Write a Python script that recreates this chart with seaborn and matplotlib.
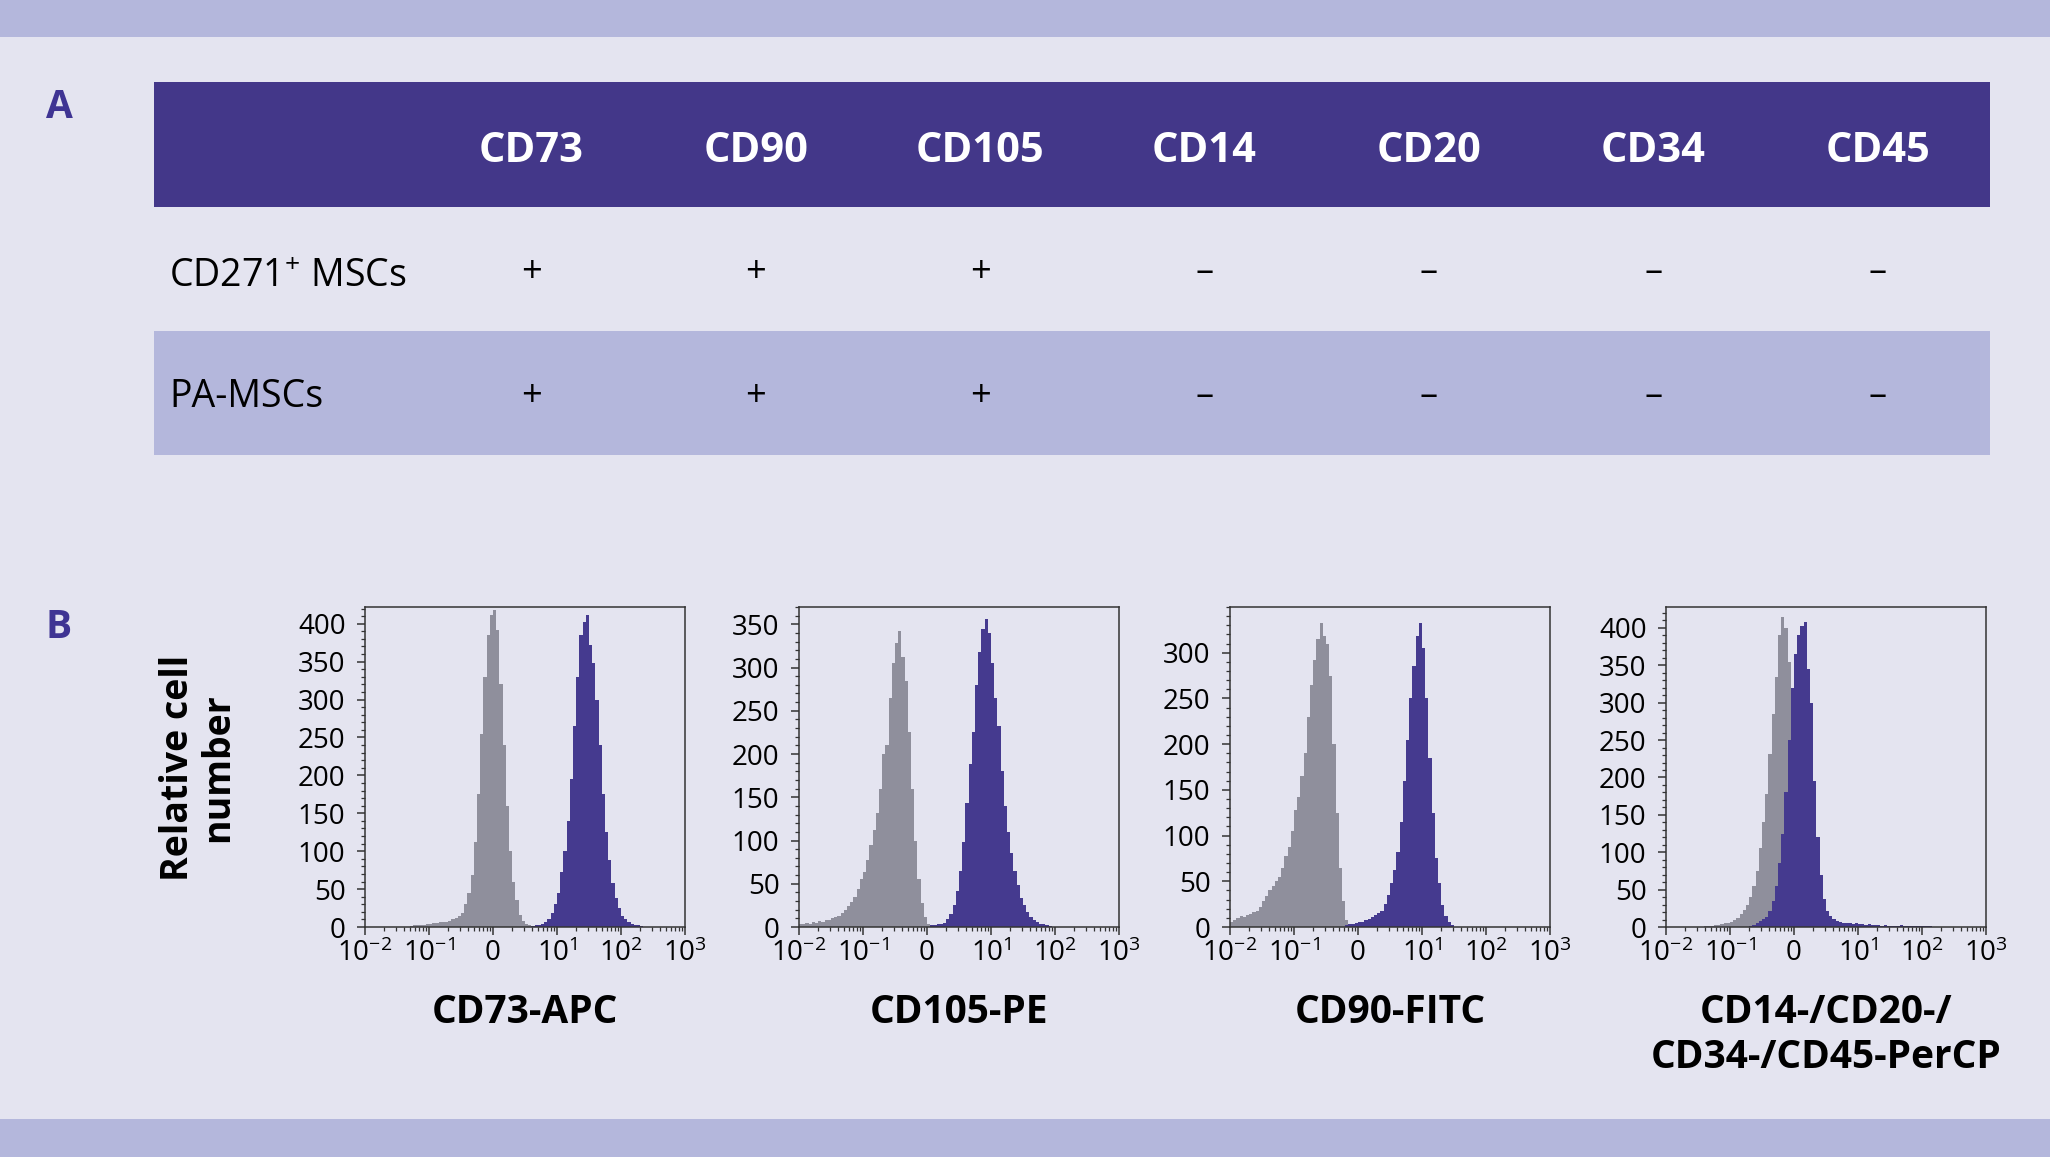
import numpy as np
import pandas as pd
import seaborn as sns
import matplotlib.pyplot as plt
from matplotlib.patches import Rectangle
from matplotlib.ticker import FixedLocator, MultipleLocator

sns.set_theme(style="ticks")
plt.rcParams['font.family'] = ['Open Sans', 'DejaVu Sans']
plt.rcParams['mathtext.fontset'] = 'custom'
plt.rcParams['mathtext.rm'] = 'Open Sans'
plt.rcParams['mathtext.it'] = 'Open Sans:italic'
plt.rcParams['mathtext.bf'] = 'Open Sans:bold'
plt.rcParams['mathtext.default'] = 'regular'

# ---------------- data ----------------
MARKERS = ["CD73", "CD90", "CD105", "CD14", "CD20", "CD34", "CD45"]
CELL_TYPES = ["CD271$^{+}$ MSCs", "PA-MSCs"]
EXPR_CD271 = ["+", "+", "+", "–", "–", "–", "–"]
EXPR_PA = ["+", "+", "+", "–", "–", "–", "–"]

PANEL_XLABELS = ["CD73-APC", "CD105-PE", "CD90-FITC", "CD14-/CD20-/\nCD34-/CD45-PerCP"]
X_TICK_LABELS = [r"$10^{-2}$", r"$10^{-1}$", "0", r"$10^{1}$", r"$10^{2}$", r"$10^{3}$"]
Y_TICK_MAX = [400, 350, 300, 400]
Y_LIMITS = [422, 370, 350, 428]

BIN_WIDTH = 0.05  # display units (one decade = 1)

# panel 1: CD73-APC
CD73_ISO_START = 0.70
CD73_ISO = [1, 2, 2, 3, 3, 4, 4, 5, 5, 6, 6, 7, 8, 10, 12, 14, 19, 30, 45, 68,
            112, 175, 255, 330, 385, 412, 418, 392, 320, 240, 160, 100, 60, 35,
            16, 8, 4, 2]
CD73_POS_START = 2.60
CD73_POS = [1, 2, 3, 4, 7, 11, 18, 30, 45, 72, 100, 140, 195, 265, 330, 385,
            402, 412, 372, 348, 300, 240, 175, 125, 88, 58, 38, 25, 15, 10, 6,
            4, 3, 2, 1]

# panel 2: CD105-PE
CD105_ISO_START = 0.00
CD105_ISO = [4, 3, 5, 4, 6, 5, 7, 6, 8, 8, 10, 11, 13, 16, 20, 24, 29, 35, 44,
             55, 64, 78, 95, 112, 132, 160, 200, 210, 265, 305, 328, 342, 312,
             285, 225, 160, 100, 55, 28, 12, 4, 1]
CD105_POS_START = 2.05
CD105_POS = [2, 2, 3, 4, 5, 9, 15, 26, 42, 65, 98, 143, 189, 225, 280, 318,
             345, 356, 340, 305, 265, 232, 180, 140, 110, 85, 65, 48, 34, 25,
             17, 12, 8, 6, 4, 3, 2, 1]

# panel 3: CD90-FITC
CD90_ISO_START = 0.00
CD90_ISO = [6, 8, 10, 12, 11, 13, 14, 16, 18, 22, 28, 34, 40, 45, 50, 55, 65,
            78, 88, 105, 128, 142, 165, 190, 230, 265, 292, 315, 332, 318, 310,
            275, 200, 125, 65, 28, 8, 2]
CD90_POS_START = 1.80
CD90_POS = [2, 3, 3, 4, 5, 6, 8, 9, 11, 13, 15, 18, 25, 35, 48, 62, 82, 115,
            160, 205, 250, 285, 318, 333, 305, 250, 185, 125, 76, 48, 24, 12,
            5, 2]

# panel 4: CD14/CD20/CD34/CD45-PerCP
LIN_ISO_START = 0.60
LIN_ISO = [1, 2, 2, 3, 3, 4, 5, 6, 7, 9, 12, 17, 23, 30, 40, 55, 75, 105, 140,
           178, 232, 285, 335, 390, 415, 400, 355, 295, 215, 140, 80, 40, 18,
           8, 3, 1]
LIN_POS_START = 1.30
LIN_POS = [2, 3, 5, 8, 11, 14, 22, 35, 55, 85, 125, 180, 250, 320, 365, 390,
           402, 408, 345, 300, 195, 120, 70, 38, 22, 15, 11, 8, 7, 6, 5, 5, 4,
           5, 4, 4, 3, 4, 3, 3, 3, 2, 3, 2, 2, 2, 2, 3, 2, 2, 2, 1, 2, 1, 1, 1, 1]

PANELS = [
    (CD73_ISO_START, CD73_ISO, CD73_POS_START, CD73_POS),
    (CD105_ISO_START, CD105_ISO, CD105_POS_START, CD105_POS),
    (CD90_ISO_START, CD90_ISO, CD90_POS_START, CD90_POS),
    (LIN_ISO_START, LIN_ISO, LIN_POS_START, LIN_POS),
]

# ---------------- style ----------------
BG = "#e4e4f0"
BAND = "#b4b7dc"
HEADER = "#433789"
LETTER = "#3f3493"
GRAY = "#8f8f9c"
PURPLE = "#453a8f"
W, H = 2050, 1157

fig = plt.figure(figsize=(W / 100, H / 100), dpi=100, facecolor=BG)

# overlay axes in pixel coordinates for the layout (bands, table)
lay = fig.add_axes([0, 0, 1, 1], zorder=0)
lay.set_xlim(0, W)
lay.set_ylim(H, 0)
lay.axis("off")

lay.add_patch(Rectangle((0, 0), W, 37, color=BAND, lw=0))
lay.add_patch(Rectangle((0, 1119), W, H - 1119, color=BAND, lw=0))

# table
tab_left, tab_right = 154, 1990
lab_w = 265
col_w = (tab_right - tab_left - lab_w) / len(MARKERS)
lay.add_patch(Rectangle((tab_left, 82), tab_right - tab_left, 125, color=HEADER, lw=0))
lay.add_patch(Rectangle((tab_left, 331), tab_right - tab_left, 124, color=BAND, lw=0))
for i, m in enumerate(MARKERS):
    cx = tab_left + lab_w + col_w * (i + 0.5)
    lay.text(cx, 151, m, color="white", fontsize=30, fontweight="bold",
             ha="center", va="center")
label_y = [277, 397]
sym_y = [273, 397]
for r, (name, expr) in enumerate(zip(CELL_TYPES, [EXPR_CD271, EXPR_PA])):
    lay.text(169, label_y[r], name, color="black", fontsize=27,
             ha="left", va="center")
    for i, s in enumerate(expr):
        cx = tab_left + lab_w + col_w * (i + 0.5)
        lay.text(cx, sym_y[r], s, color="black", fontsize=26,
                 ha="center", va="center")

lay.text(59, 107, "A", color=LETTER, fontsize=28, fontweight="bold",
         ha="center", va="center")
lay.text(59, 627, "B", color=LETTER, fontsize=28, fontweight="bold",
         ha="center", va="center")

# histograms
ax_lefts = [365, 799, 1230, 1666]
ax_top, ax_bot, ax_w = 607, 927, 320
minor_x = []
for d in range(5):
    for k in range(2, 10):
        minor_x.append(d + np.log10(k))

axes = []
for p, (s0, c0, s1, c1) in enumerate(PANELS):
    ax = fig.add_axes([ax_lefts[p] / W, 1 - ax_bot / H, ax_w / W, (ax_bot - ax_top) / H], zorder=2)
    ax.set_facecolor("none")
    for start, counts, col in [(s0, c0, GRAY), (s1, c1, PURPLE)]:
        df = pd.DataFrame({
            "pos": start + BIN_WIDTH * (np.arange(len(counts)) + 0.5),
            "count": counts,
        })
        sns.histplot(data=df, x="pos", weights="count", bins=100, binrange=(0, 5),
                     element="step", fill=True, color=col, alpha=1, linewidth=0, ax=ax)
    ax.set_xlim(0, 5)
    ax.set_ylim(0, Y_LIMITS[p])
    ax.set_xticks(range(6))
    ax.set_xticklabels(X_TICK_LABELS)
    ax.xaxis.set_minor_locator(FixedLocator(minor_x))
    ax.set_yticks(np.arange(0, Y_TICK_MAX[p] + 1, 50))
    ax.yaxis.set_minor_locator(MultipleLocator(10))
    ax.tick_params(axis="both", which="major", direction="out", length=6, width=1.1,
                   color="#333333", labelsize=20, labelcolor="black")
    ax.tick_params(axis="both", which="minor", direction="out", length=3, width=0.9,
                   color="#333333")
    ax.tick_params(axis="x", which="major", pad=3)
    ax.tick_params(axis="y", which="major", pad=8)
    for sp in ax.spines.values():
        sp.set_visible(True)
        sp.set_color("#333333")
        sp.set_linewidth(1.1)
    ax.set_ylabel("")
    ax.set_xlabel(PANEL_XLABELS[p], fontsize=28, fontweight="bold", color="black",
                  linespacing=1.2)
    ax.xaxis.label.set_va("top")
    ax.xaxis.set_label_coords(0.5, -(993 - ax_bot) / 320)
    axes.append(ax)

axes[0].set_ylabel("Relative cell\nnumber", fontsize=27, fontweight="bold",
                   color="black", linespacing=1.05)
axes[0].yaxis.label.set_va("center")
axes[0].yaxis.set_label_coords((198 - 365) / 320, (927 - 768) / 320)

fig.savefig("out.png", dpi=100, facecolor=BG)
